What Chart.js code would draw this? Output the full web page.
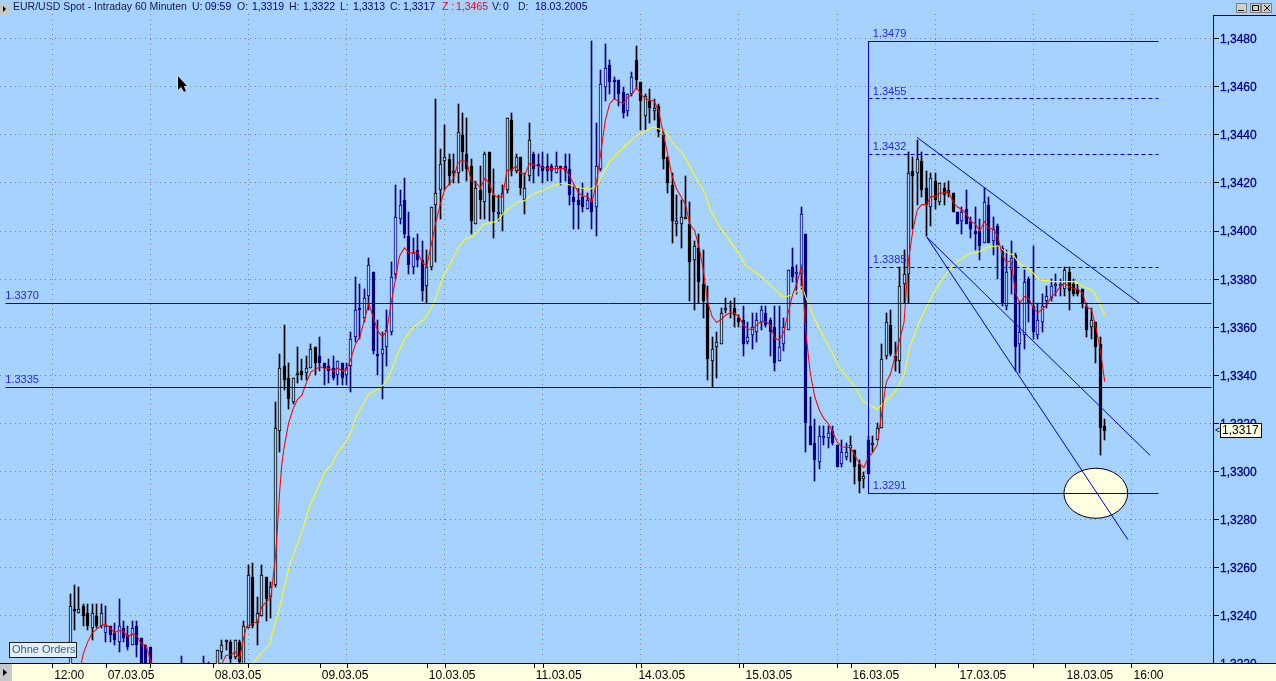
<!DOCTYPE html>
<html>
<head>
<meta charset="utf-8">
<title>EUR/USD Spot</title>
<script src="https://cdn.jsdelivr.net/npm/chart.js@4/dist/chart.umd.min.js"></script>
<style>
html, body { margin: 0; padding: 0; background: #a6d2ff; overflow: hidden; }
canvas { display: block; }
</style>
</head>
<body>
<canvas id="grafica" width="1276" height="681"></canvas>
<script>
// hourly candles, index 0 is the first bar on the left
const opens = [
  1.3210,1.3243,1.3241,1.3244,1.3241,1.3235,1.3240,1.3236,1.3233,1.3236,
  1.3233,1.3229,1.3235,1.3232,1.3228,1.3236,1.3231,1.3228,1.3227,1.3215,
  1.3212,1.3209,1.3212,1.3210,1.3213,1.3210,1.3214,1.3212,1.3210,1.3213,
  1.3216,1.3214,1.3217,1.3215,1.3225,1.3229,1.3229,1.3223,1.3229,1.3220,
  1.3235,1.3256,1.3237,1.3240,1.3256,1.3248,1.3253,1.3317,1.3344,1.3339,
  1.3329,1.3340,1.3342,1.3341,1.3343,1.3352,1.3348,1.3345,1.3344,1.3343,
  1.3340,1.3345,1.3340,1.3344,1.3356,1.3368,1.3364,1.3373,1.3383,1.3349,
  1.3349,1.3352,1.3358,1.3382,1.3405,1.3413,1.3398,1.3385,1.3392,1.3388,
  1.3377,1.3385,1.3411,1.3417,1.3429,1.3430,1.3424,1.3424,1.3440,1.3432,
  1.3427,1.3403,1.3417,1.3412,1.3433,1.3415,1.3407,1.3407,1.3417,1.3446,
  1.3425,1.3431,1.3413,1.3423,1.3432,1.3428,1.3427,1.3427,1.3427,1.3424,
  1.3427,1.3427,1.3426,1.3414,1.3413,1.3414,1.3409,1.3413,1.3410,1.3426,
  1.3460,1.3469,1.3463,1.3463,1.3458,1.3450,1.3457,1.3471,1.3462,1.3448,
  1.3454,1.3450,1.3452,1.3440,1.3431,1.3419,1.3403,1.3403,1.3405,1.3403,
  1.3388,1.3393,1.3378,1.3370,1.3346,1.3352,1.3353,1.3367,1.3369,1.3368,
  1.3364,1.3363,1.3354,1.3357,1.3358,1.3362,1.3366,1.3363,1.3360,1.3346,
  1.3353,1.3359,1.3385,1.3382,1.3382,1.3399,1.3319,1.3312,1.3304,1.3314,
  1.3314,1.3317,1.3311,1.3303,1.3306,1.3310,1.3309,1.3303,1.3297,1.3313,
  1.3311,1.3313,1.3318,1.3348,1.3361,1.3348,1.3346,1.3378,1.3382,1.3425,
  1.3424,1.3429,1.3418,1.3410,1.3421,1.3412,1.3418,1.3417,1.3416,1.3408,
  1.3404,1.3409,1.3404,1.3400,1.3400,1.3395,1.3411,1.3396,1.3402,1.3393,
  1.3369,1.3384,1.3390,1.3353,1.3357,1.3380,1.3369,1.3357,1.3362,1.3371,
  1.3372,1.3377,1.3377,1.3376,1.3383,1.3378,1.3376,1.3376,1.3369,1.3360,
  1.3362,1.3353,1.3319
];
const highs = [
  1.3249,1.3253,1.3252,1.3245,1.3245,1.3245,1.3245,1.3245,1.3244,1.3236,
  1.3237,1.3247,1.3238,1.3236,1.3238,1.3238,1.3231,1.3228,1.3227,1.3218,
  1.3216,1.3215,1.3217,1.3216,1.3218,1.32235,1.3218,1.3216,1.3215,1.3218,
  1.32235,1.3221,1.3219,1.3226,1.3230,1.3230,1.3230,1.3230,1.3230,1.3238,
  1.3261,1.3262,1.3248,1.3261,1.3256,1.3254,1.3329,1.3349,1.3361,1.3345,
  1.3339,1.3352,1.3347,1.3348,1.3353,1.3352,1.3356,1.3345,1.3347,1.3348,
  1.3346,1.3345,1.3345,1.3358,1.3381,1.3378,1.3376,1.3389,1.3383,1.3363,
  1.3358,1.3367,1.3387,1.3419,1.3417,1.3422,1.3408,1.3397,1.3399,1.3396,
  1.3392,1.3410,1.3455,1.3434,1.3444,1.3432,1.3432,1.3453,1.3449,1.3447,
  1.3430,1.3421,1.3427,1.3433,1.3433,1.3426,1.3415,1.3419,1.3447,1.3449,
  1.3432,1.3431,1.3424,1.3445,1.3433,1.3432,1.3433,1.3432,1.3428,1.3433,
  1.3427,1.3432,1.3432,1.3419,1.3418,1.3420,1.3416,1.3479,1.3445,1.3467,
  1.3478,1.3471,1.3464,1.3463,1.3460,1.3457,1.3466,1.3477,1.3462,1.3457,
  1.3459,1.3455,1.3453,1.3442,1.3431,1.3424,1.3415,1.3413,1.3423,1.3412,
  1.3396,1.3399,1.3392,1.3377,1.3356,1.3358,1.3368,1.3372,1.3371,1.3372,
  1.3365,1.3369,1.3362,1.3366,1.3366,1.3369,1.3369,1.3364,1.3369,1.3369,
  1.3364,1.3384,1.3393,1.3386,1.3410,1.3399,1.3331,1.3322,1.3319,1.3319,
  1.3319,1.3319,1.3311,1.3313,1.3312,1.3315,1.3309,1.3305,1.3300,1.3315,
  1.3315,1.3320,1.3353,1.3366,1.3367,1.3354,1.3385,1.3392,1.3433,1.3431,
  1.3438,1.3433,1.3425,1.3424,1.3424,1.3420,1.3420,1.3421,1.3416,1.3408,
  1.3410,1.3417,1.3406,1.3410,1.3405,1.3418,1.3414,1.3406,1.3403,1.3394,
  1.3392,1.3396,1.3391,1.3371,1.3384,1.3381,1.3394,1.3370,1.3374,1.3377,
  1.3380,1.3382,1.3380,1.3385,1.3385,1.3380,1.3378,1.3376,1.3370,1.3368,
  1.3362,1.3356,1.3322
];
const lows = [
  1.3205,1.3234,1.3241,1.3236,1.3234,1.3230,1.3235,1.3235,1.3229,1.3229,
  1.3228,1.3225,1.3229,1.3226,1.3228,1.3223,1.3217,1.3215,1.3212,1.3208,
  1.3206,1.3205,1.3207,1.3206,1.3208,1.3207,1.3209,1.3207,1.3206,1.3209,
  1.3211,1.3210,1.3212,1.3213,1.3222,1.3226,1.3220,1.3222,1.3219,1.3217,
  1.3235,1.3235,1.3228,1.3240,1.3238,1.3239,1.3252,1.3308,1.3334,1.3326,
  1.3328,1.3337,1.3338,1.3338,1.3343,1.3340,1.3342,1.3336,1.3337,1.3338,
  1.3336,1.3336,1.3336,1.3333,1.3354,1.3355,1.3362,1.3367,1.3349,1.3340,
  1.3330,1.3344,1.3357,1.3380,1.3403,1.3397,1.3382,1.3382,1.3385,1.3371,
  1.3370,1.3384,1.3387,1.3405,1.3417,1.3419,1.3420,1.3420,1.3425,1.3421,
  1.3399,1.3403,1.3405,1.3405,1.3404,1.3397,1.3404,1.3400,1.3416,1.3423,
  1.3424,1.3415,1.3407,1.3421,1.3420,1.3423,1.3420,1.3421,1.3421,1.3424,
  1.3419,1.3421,1.3411,1.3401,1.3401,1.3408,1.3409,1.3401,1.3398,1.3425,
  1.3454,1.3457,1.3455,1.3452,1.3447,1.3448,1.3456,1.3459,1.3442,1.3442,
  1.3445,1.3446,1.3439,1.3426,1.3416,1.3395,1.3398,1.3393,1.3405,1.3371,
  1.3367,1.3370,1.3364,1.3338,1.3335,1.3339,1.3353,1.3366,1.3364,1.3360,
  1.3360,1.3348,1.3353,1.3351,1.3354,1.3359,1.3360,1.3348,1.3342,1.3346,
  1.3350,1.3359,1.3379,1.3374,1.3376,1.3308,1.3311,1.3296,1.3301,1.3311,
  1.3310,1.3311,1.3302,1.3302,1.3305,1.3304,1.3295,1.3291,1.3293,1.3299,
  1.3308,1.3313,1.3318,1.3347,1.3348,1.3342,1.3341,1.3370,1.3370,1.3401,
  1.3411,1.3414,1.3398,1.3402,1.3409,1.3411,1.3411,1.3414,1.3408,1.3403,
  1.3399,1.3403,1.3397,1.3392,1.3388,1.3395,1.3395,1.3390,1.3380,1.3369,
  1.3367,1.3374,1.3342,1.3341,1.3351,1.3362,1.3355,1.3355,1.3358,1.3368,
  1.3371,1.3373,1.3373,1.3373,1.3367,1.3373,1.3373,1.3368,1.3356,1.3355,
  1.3345,1.3307,1.3313
];
const closes = [
  1.3244,1.3242,1.3243,1.3240,1.3236,1.3241,1.3236,1.3241,1.3236,1.3232,
  1.3230,1.3236,1.3231,1.3227,1.3235,1.3228,1.3219,1.3218,1.3215,1.3212,
  1.3209,1.3212,1.3210,1.3213,1.3210,1.3214,1.3212,1.3210,1.3213,1.3216,
  1.3214,1.3217,1.3215,1.3226,1.3228,1.3230,1.3222,1.3230,1.3221,1.3236,
  1.3257,1.3236,1.3241,1.3257,1.3247,1.3252,1.3318,1.3343,1.3338,1.3330,
  1.3339,1.3341,1.3340,1.3343,1.3351,1.3345,1.3345,1.3343,1.3342,1.3339,
  1.3346,1.3339,1.3343,1.3355,1.3367,1.3367,1.3372,1.3386,1.3350,1.3348,
  1.3351,1.3359,1.3381,1.3406,1.3411,1.3399,1.3386,1.3391,1.3388,1.3375,
  1.3385,1.3410,1.3416,1.3428,1.3431,1.3423,1.3425,1.3441,1.3433,1.3426,
  1.3404,1.3418,1.3413,1.3432,1.3416,1.3408,1.3408,1.3416,1.3447,1.3425,
  1.3431,1.3418,1.3418,1.3438,1.3426,1.3427,1.3425,1.3425,1.3425,1.3427,
  1.3426,1.3425,1.3415,1.3412,1.3411,1.3410,1.3413,1.3408,1.3427,1.3461,
  1.3468,1.3462,1.3462,1.3457,1.3449,1.3457,1.3464,1.3463,1.3454,1.3456,
  1.3451,1.3451,1.3441,1.3430,1.3420,1.3404,1.3404,1.3406,1.3406,1.3387,
  1.3394,1.3379,1.3371,1.3347,1.3351,1.3354,1.3366,1.3368,1.3369,1.3365,
  1.3362,1.3353,1.3356,1.3360,1.3363,1.3367,1.3361,1.3358,1.3345,1.3352,
  1.3360,1.3384,1.3381,1.3383,1.3407,1.3320,1.3311,1.3305,1.3315,1.3315,
  1.3316,1.3312,1.3302,1.3308,1.3308,1.3311,1.3302,1.3296,1.3298,1.3299,
  1.3312,1.3318,1.3347,1.3362,1.3349,1.3346,1.3377,1.3382,1.3424,1.3423,
  1.3430,1.3417,1.3411,1.3422,1.3413,1.3420,1.3415,1.3416,1.3408,1.3403,
  1.3408,1.3403,1.3401,1.3399,1.3394,1.3412,1.3395,1.3401,1.3394,1.3370,
  1.3383,1.3389,1.3352,1.3358,1.3379,1.3370,1.3358,1.3363,1.3369,1.3373,
  1.3377,1.3378,1.3378,1.3384,1.3375,1.3374,1.3374,1.3370,1.3359,1.3363,
  1.3352,1.3318,1.3317
];

// red moving average, read at these bar positions
const fastBars = [
  2.5,3,4,5,6,7,8,9,10,11,12,13,14,15,16,17,18,19,22,26,
  30,33,34,35,36,37,38,39,39.6,40,42,43,45,46,46.5,47,47.5,48,49,50,
  51,52,53,54,55,56,57,58,59,60,61,62,63,64,65,66,67,68,69,70,
  71,72,73,73.7,74,75,76,77,78,79,80,81,82,83,84,85,86,87,88,89,
  90,91,92,93,94,95,96,97,98,99,100,101,102,103,104,105,107,109,111,112,
  113,114,115,116,117,118,119,120,121,122,124,125,126,127,128,129,131,132,133,134,
  135,136,137,138,139,140,141,142,143,144,145,146,147,148,149,150,151,152,153,154,
  155,156,157,158,159,160,161,162,163,164,165,166,167,168,169,170,171,172,173,175,
  176,177,178,179,180,181,182,183,184,185,186,187,188,189,190,191,192,193,194,195,
  196,197,198,199,200,201,202,203,204,205,206,207,208,209,210,211,212,213,214,215,
  216,217,218,219,220,221,222,223,224,225,226,227,228,229,230,231,232
];
const fastValues = [
  1.3220,1.32244,1.32293,1.3233,1.32345,1.3236,1.32365,1.3235,1.3233,1.3234,1.32335,1.32314,1.32324,1.32317,1.32283,1.32278,1.32217,1.3214,1.3210,1.3212,
  1.3213,1.3216,1.3220,1.32236,1.32236,1.32251,1.32224,1.32314,1.32356,1.3236,1.32376,1.32439,1.32476,1.32631,1.3276,1.32915,1.3303,1.3310,1.3320,1.3326,
  1.3330,1.33318,1.3337,1.33415,1.33425,1.33436,1.3343,1.3343,1.3342,1.3343,1.3342,1.33422,1.3347,1.3353,1.33561,1.3363,1.3370,1.3364,1.33586,1.33561,
  1.33582,1.3370,1.3380,1.3388,1.3390,1.3393,1.3391,1.3391,1.3391,1.3387,1.33854,1.33944,1.34035,1.3411,1.34173,1.34194,1.3422,1.34284,1.34295,1.34284,
  1.34208,1.34201,1.3418,1.3422,1.3420,1.3415,1.3414,1.34145,1.34254,1.34254,1.3427,1.3424,1.34235,1.3428,1.34277,1.3427,1.3426,1.3426,1.3426,1.3423,
  1.34194,1.3416,1.34145,1.34145,1.3412,1.34194,1.34325,1.34457,1.3453,1.3455,1.3453,1.34555,1.34568,1.34596,1.3457,1.3455,1.3454,1.34499,1.34408,1.3432,
  1.34228,1.34175,1.34144,1.3411,1.34026,1.34005,1.33936,1.3384,1.3370,1.33644,1.3362,1.33633,1.3365,1.3366,1.33658,1.33644,1.3361,1.33593,1.3359,1.3361,
  1.33624,1.33624,1.3361,1.33554,1.33547,1.33578,1.33658,1.33735,1.33784,1.33853,1.33575,1.33408,1.3331,1.33256,1.33221,1.3320,1.33165,1.33124,1.33103,1.33099,
  1.33068,1.33033,1.33017,1.3306,1.3308,1.3311,1.33242,1.3337,1.33408,1.33478,1.33547,1.3362,1.3388,1.34006,1.3409,1.3411,1.3411,1.34144,1.34144,1.34158,
  1.34158,1.34165,1.3412,1.3410,1.3409,1.3407,1.3404,1.3403,1.3400,1.3404,1.34013,1.34008,1.3398,1.3390,1.33869,1.33878,1.33742,1.3370,1.33728,1.3372,
  1.33679,1.3366,1.33675,1.33693,1.33728,1.33742,1.3377,1.33783,1.3377,1.33762,1.33756,1.33742,1.33683,1.33675,1.33603,1.33506,1.33374
];

// yellow moving average
const slowBars = [
  41,42.6,44.8,45.5,46.7,47.8,49.3,50.8,52.3,53.8,
  55.3,57.2,58.7,59.8,61.7,62.8,64.3,65.8,66.9,68.8,
  70.2,71.7,73.2,75.1,77,79.2,80.7,81.8,83.7,85.6,
  87,88.6,90.4,92.7,95.7,97.5,100.2,102,103.5,106.1,
  108.4,110.6,112.5,114.3,116.6,118.1,119.6,121,122.9,124.8,
  127.2,130.8,133.4,135.7,137.5,140.1,142.4,143.5,146.1,149.5,
  151.7,155.1,157.3,159.9,162.2,164.1,165.2,167.4,169.6,172.6,
  176,177.9,179.4,181,185,187,188.3,190.6,193.2,195.4,
  198.4,201.4,204,205.5,208.1,209.6,211.5,213,214.9,217.5,
  220.5,225,228,229.5,231,232
];
const slowValues = [
  1.32203,1.3224,1.32282,1.3234,1.3241,1.3250,1.32615,1.3269,1.32767,1.3286,
  1.3292,1.3300,1.3303,1.33075,1.3312,1.33155,1.33235,1.3328,1.3332,1.3334,
  1.3336,1.3340,1.3348,1.33554,1.3360,1.3363,1.3367,1.3371,1.33813,1.33875,
  1.3393,1.33965,1.3398,1.34028,1.34041,1.3408,1.3412,1.34127,1.34152,1.3417,
  1.3419,1.3420,1.3419,1.3418,1.34173,1.3419,1.34242,1.3429,1.34325,1.3436,
  1.3440,1.34433,1.34415,1.34353,1.3432,1.3423,1.34158,1.3409,1.34006,1.3392,
  1.33853,1.3381,1.3377,1.33725,1.33735,1.3377,1.33714,1.33617,1.3354,1.3343,
  1.33353,1.33292,1.33276,1.3326,1.33332,1.33401,1.33519,1.3363,1.33728,1.33797,
  1.33867,1.33904,1.33915,1.33933,1.33939,1.33915,1.33901,1.3386,1.33846,1.33797,
  1.3379,1.3379,1.33763,1.3375,1.33693,1.33651
];

const priceTicks = [1.3220,1.3240,1.3260,1.3280,1.3300,1.3320,1.3340,1.3360,1.3380,1.3400,1.3420,1.3440,1.3460,1.3480];

const dateTickBars = [-4,8,32,56,80,104,127,151,175,199,223,238];
const dateTickLabels = ['12:00','07.03.05','08.03.05','09.03.05','10.03.05','11.03.05','14.03.05','15.03.05','16.03.05','17.03.05','18.03.05','16:00'];
const gridBars = [-4,18,40,62,84,106,128,150,172,194,216,238];

// drawn levels and tools
const levelPrices = [1.3370,1.3335];
const levelBars = [-14.5,256];
const fibPrices = [1.3479,1.3455,1.3432,1.3385,1.3291];
const fibDashed = [false,true,true,true,false];
const fibBars = [179,244];
const trendBars = [[189.9,239.8],[192.1,242.2],[192.1,237.2]];
const trendPrices = [[1.3439,1.3370],[1.33975,1.33067],[1.33975,1.32717]];
const ellipseBar = 230;
const ellipsePrice = 1.3291;
const ellipseHalfBars = 7.15;
const ellipseHalfPrice = 0.00104;
const lastPrice = 1.3317;

const headerTexts = ['EUR/USD Spot - Intraday 60 Minuten','U:','09:59','O:','1,3319','H:','1,3322','L:','1,3313','C:','1,3317','Z :','1,3465','V:','0','D:','18.03.2005'];
const headerX = [13,192,205,237,252,289,303,340,353,390,403,442,456,492,503,518,535];

const bgColor = '#a6d2ff';
const stripColor = '#ffffe1';
const lineBlue = '#0000cc';
const textBlue = '#2a2ae0';

// candles change colour at every date tick
function barColor(i) {
  let day = 0;
  for (let k = 1; k <= 10; k++) {
    if (i >= dateTickBars[k]) day = k;
  }
  return day % 2 === 1 ? '#000080' : '#000000';
}

const wickData = highs.map((h, i) => ({x: i, y: [lows[i], h]}));
const bodyData = opens.map((o, i) => ({x: i, y: [o, closes[i]]}));
const pairs = (xs, ys) => xs.map((x, i) => ({x: x, y: ys[i]}));

function toolLine(bars, prices, dashed, snap) {
  return {
    type: 'line',
    data: pairs(bars, prices),
    borderColor: lineBlue,
    borderWidth: 1,
    borderDash: dashed ? [4, 3] : [],
    pointRadius: 0,
    tension: 0,
    order: 2,
    snapLine: snap
  };
}

const datasets = [
  {
    type: 'bar', data: wickData, grouped: false, barThickness: 1, order: 6, candle: true,
    backgroundColor: ctx => barColor(ctx.dataIndex), borderWidth: 0
  },
  {
    type: 'bar', data: bodyData, grouped: false, barThickness: 3, order: 5, candle: true,
    backgroundColor: ctx => closes[ctx.dataIndex] >= opens[ctx.dataIndex] ? bgColor : barColor(ctx.dataIndex),
    borderColor: ctx => barColor(ctx.dataIndex),
    borderWidth: 1, borderSkipped: false
  },
  {type: 'line', data: pairs(slowBars, slowValues), borderColor: '#ffff00', borderWidth: 1.1, pointRadius: 0, tension: 0, order: 4},
  {type: 'line', data: pairs(fastBars, fastValues), borderColor: '#ff0000', borderWidth: 1.05, pointRadius: 0, tension: 0, order: 3}
];
levelPrices.forEach(p => datasets.push(toolLine(levelBars, [p, p], false, true)));
fibPrices.forEach((p, i) => datasets.push(toolLine(fibBars, [p, p], fibDashed[i], true)));
datasets.push(toolLine([fibBars[0], fibBars[0]], [fibPrices[0], fibPrices[4]], false, true));
trendBars.forEach((b, i) => datasets.push(toolLine(b, trendPrices[i], false, false)));

function snapElements(chart) {
  chart.data.datasets.forEach((ds, d) => {
    const meta = chart.getDatasetMeta(d);
    if (ds.candle) {
      meta.data.forEach(bar => {
        const top = Math.round(Math.min(bar.y, bar.base));
        let bottom = Math.round(Math.max(bar.y, bar.base));
        if (bottom - top < 1) bottom = top + 1;
        bar.x = Math.floor(bar.x) + 0.5;
        bar.y = top;
        bar.base = bottom;
        bar.height = bottom - top;
      });
    }
    if (ds.snapLine) {
      meta.data.forEach(pt => {
        pt.x = Math.floor(pt.x) + 0.5;
        pt.y = Math.floor(pt.y) + 0.5;
      });
    }
  });
}

const decor = {
  id: 'decor',
  beforeDraw(chart) {
    const ctx = chart.ctx;
    ctx.save();
    ctx.fillStyle = bgColor;
    ctx.fillRect(0, 0, chart.width, chart.height);
    ctx.restore();
  },
  beforeDatasetsDraw(chart) {
    const {ctx, scales: {x, y}, chartArea, width, height} = chart;
    snapElements(chart);
    ctx.save();

    // date strip
    ctx.fillStyle = stripColor;
    ctx.fillRect(0, 664, width, height - 664);
    ctx.strokeStyle = '#000';
    ctx.lineWidth = 1;
    ctx.beginPath();
    ctx.moveTo(0, 663.5); ctx.lineTo(width, 663.5);
    ctx.moveTo(chartArea.right + 0.5, 15); ctx.lineTo(chartArea.right + 0.5, 664);
    ctx.moveTo(chartArea.right, 15.5); ctx.lineTo(width, 15.5);
    x.ticks.forEach((t, i) => {
      const px = Math.round(x.getPixelForTick(i)) + 0.5;
      ctx.moveTo(px, 664); ctx.lineTo(px, 668);
    });
    ctx.stroke();

    // small button left of the date strip
    ctx.fillStyle = '#c8c8c8';
    ctx.fillRect(0, 664, 12, 17);
    ctx.fillStyle = '#000';
    ctx.beginPath();
    ctx.moveTo(3, 669); ctx.lineTo(7, 672.5); ctx.lineTo(3, 676);
    ctx.fill();

    // ellipse stays under the lines
    const cx = x.getPixelForValue(ellipseBar);
    const cy = y.getPixelForValue(ellipsePrice);
    const rx = x.getPixelForValue(ellipseBar + ellipseHalfBars) - cx;
    const ry = y.getPixelForValue(ellipsePrice - ellipseHalfPrice) - cy;
    ctx.beginPath();
    ctx.ellipse(cx, cy, rx, ry, 0, 0, Math.PI * 2);
    ctx.fillStyle = stripColor;
    ctx.fill();
    ctx.strokeStyle = '#000';
    ctx.stroke();
    ctx.restore();
  },
  afterDraw(chart) {
    const {ctx, scales: {x, y}} = chart;
    ctx.save();
    ctx.textBaseline = 'middle';
    ctx.textAlign = 'left';

    // header row
    ctx.font = '10.5px "Liberation Sans"';
    headerTexts.forEach((t, i) => {
      let color = '#1a1a3c';
      if (i > 0 && i % 2 === 0) color = '#000080';
      if (i === 11 || i === 12) color = '#ff0000';
      ctx.fillStyle = color;
      ctx.fillText(t, headerX[i], 7.5);
    });
    ctx.fillStyle = '#c8c8c8';
    ctx.fillRect(0, 3, 10, 12);
    ctx.fillStyle = '#000';
    ctx.beginPath();
    ctx.moveTo(3, 6); ctx.lineTo(6, 9); ctx.lineTo(3, 12);
    ctx.fill();

    // window buttons
    [1236, 1250, 1261].forEach(bx => {
      ctx.fillStyle = '#d4d0c8';
      ctx.fillRect(bx, 3, 11, 10);
      ctx.strokeStyle = '#808080';
      ctx.strokeRect(bx + 0.5, 3.5, 10, 9);
    });
    ctx.strokeStyle = '#000';
    ctx.beginPath();
    ctx.moveTo(1238, 10.5); ctx.lineTo(1244, 10.5);
    ctx.rect(1252.5, 5.5, 6, 5);
    ctx.moveTo(1264, 5); ctx.lineTo(1270, 11);
    ctx.moveTo(1270, 5); ctx.lineTo(1264, 11);
    ctx.stroke();

    // labels of drawn levels
    ctx.font = '11px "Liberation Sans"';
    ctx.fillStyle = textBlue;
    levelPrices.forEach(p => {
      ctx.fillText(p.toFixed(4), x.getPixelForValue(levelBars[0]), y.getPixelForValue(p) - 7);
    });
    fibPrices.forEach(p => {
      ctx.fillText(p.toFixed(4), x.getPixelForValue(fibBars[0] + 1), y.getPixelForValue(p) - 7);
    });

    // last price tag
    const tagY = Math.round(y.getPixelForValue(lastPrice));
    ctx.fillStyle = stripColor;
    ctx.fillRect(1220, tagY - 8, 42, 15);
    ctx.strokeStyle = '#000';
    ctx.strokeRect(1220.5, tagY - 7.5, 41, 14);
    ctx.fillStyle = '#000';
    ctx.font = '12px "Liberation Sans"';
    ctx.fillText(lastPrice.toFixed(4).replace('.', ','), 1222, tagY);
    ctx.font = '9px "Liberation Sans"';
    ctx.fillText('<', 1215, tagY);

    // order box
    ctx.fillStyle = '#e4ecf6';
    ctx.fillRect(9, 642, 68, 16);
    ctx.strokeStyle = '#202020';
    ctx.strokeRect(9.5, 642.5, 67, 15);
    ctx.fillStyle = '#2f6a86';
    ctx.font = '11px "Liberation Sans"';
    ctx.fillText('Ohne Orders', 12, 650);

    // mouse pointer
    ctx.beginPath();
    ctx.moveTo(178, 76); ctx.lineTo(178, 90); ctx.lineTo(181, 87);
    ctx.lineTo(184, 92); ctx.lineTo(186, 91); ctx.lineTo(184, 86);
    ctx.lineTo(187, 86); ctx.closePath();
    ctx.fillStyle = '#000';
    ctx.strokeStyle = '#fff';
    ctx.lineWidth = 1;
    ctx.stroke();
    ctx.fill();
    ctx.restore();
  }
};

new Chart(document.getElementById('grafica'), {
  type: 'bar',
  data: {datasets: datasets},
  plugins: [decor],
  options: {
    responsive: false,
    animation: false,
    events: [],
    layout: {padding: {top: 14, left: 0, right: 0, bottom: 0}},
    plugins: {legend: {display: false}, tooltip: {enabled: false}},
    scales: {
      x: {
        type: 'linear',
        offset: false,
        min: -70 / 4.46,
        max: (1213 - 70) / 4.46,
        afterBuildTicks: s => {
          s.ticks = dateTickBars.concat(gridBars)
            .filter((v, i, a) => a.indexOf(v) === i)
            .sort((a, b) => a - b)
            .map(v => ({value: v}));
        },
        afterFit: s => { s.height = 17; s.paddingLeft = 0; s.paddingRight = 0; },
        ticks: {
          z: 1,
          autoSkip: false,
          maxRotation: 0,
          align: 'start',
          labelOffset: 2,
          padding: 4,
          color: '#000',
          font: {family: '"Liberation Sans"', size: 12},
          callback: v => {
            const k = dateTickBars.indexOf(v);
            return k >= 0 ? dateTickLabels[k] : '';
          }
        },
        grid: {
          offset: false,
          drawTicks: false,
          color: ctx => ctx.tick && gridBars.includes(ctx.tick.value) ? '#808080' : 'rgba(0,0,0,0)'
        },
        border: {display: false, dash: [1, 4]}
      },
      y: {
        position: 'right',
        beginAtZero: false,
        min: 1.3220,
        max: 1.3220 + 650 / 24050,
        afterBuildTicks: s => { s.ticks = priceTicks.map(v => ({value: v})); },
        afterFit: s => { s.width = 63; s.paddingTop = 0; s.paddingBottom = 0; },
        ticks: {
          autoSkip: false,
          padding: 1,
          labelOffset: 1,
          color: '#000080',
          textStrokeColor: '#000080',
          textStrokeWidth: 0.3,
          font: {family: '"Liberation Sans"', size: 12},
          callback: v => v.toFixed(4).replace('.', ',')
        },
        grid: {color: '#808080', tickColor: '#000', tickLength: 6},
        border: {display: false, dash: [1, 4]}
      }
    }
  }
});
</script>
</body>
</html>
